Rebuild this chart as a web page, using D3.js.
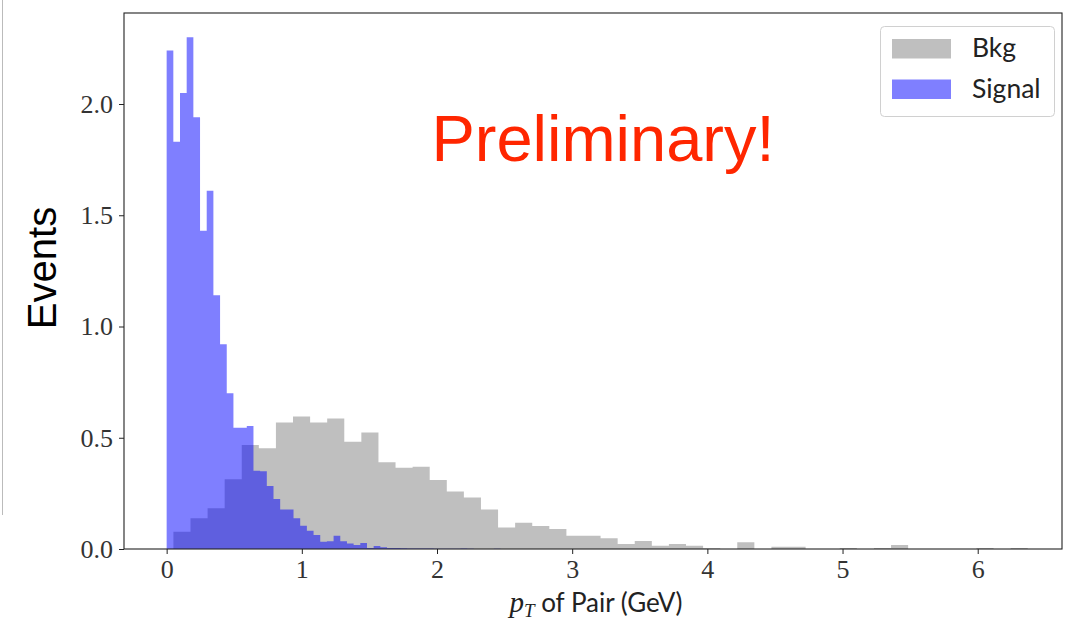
<!DOCTYPE html>
<html>
<head>
<meta charset="utf-8">
<script src="https://cdn.jsdelivr.net/npm/d3@7/dist/d3.min.js"></script>
<style>
  html, body { margin: 0; padding: 0; background: #fff; }
  svg { display: block; }
</style>
</head>
<body>
<svg id="chart" width="1082" height="622"></svg>
<script>
// ---- Data ----
const signalRange = [0.0, 2.47];      // 50 bins
const signalValues = [
  2.24, 1.83, 2.05, 2.30, 1.94, 1.43, 1.61, 1.14, 0.92, 0.70,
  0.545, 0.545, 0.553, 0.352, 0.35, 0.283, 0.225, 0.178, 0.178, 0.138,
  0.105, 0.082, 0.063, 0.033, 0.035, 0.060, 0.035, 0.025, 0.018, 0.027,
  0.004, 0.013, 0.008, 0.005, 0.005, 0.003, 0.002, 0.002, 0.002, 0.002,
  0.001, 0.001, 0.001, 0.001, 0.002, 0.001, 0.0, 0.0, 0.0, 0.001
];
const bkgRange = [0.05, 6.37];        // 50 bins
const bkgValues = [
  0.078, 0.138, 0.183, 0.313, 0.467, 0.453, 0.568, 0.595, 0.569, 0.587,
  0.482, 0.524, 0.390, 0.365, 0.370, 0.310, 0.258, 0.232, 0.178, 0.097,
  0.118, 0.103, 0.090, 0.060, 0.060, 0.048, 0.022, 0.036, 0.015, 0.022,
  0.015, 0.003, 0.0, 0.030, 0.0, 0.010, 0.010, 0.0, 0.0, 0.005,
  0.0, 0.005, 0.018, 0.0, 0.0, 0.0, 0.0, 0.005, 0.0, 0.005
];
const xTicks = [0, 1, 2, 3, 4, 5, 6];
const yTicks = [0.0, 0.5, 1.0, 1.5, 2.0];
const legendLabels = ["Bkg", "Signal"];
const annotation = "Preliminary!";
const yTitle = "Events";

// ---- Layout ----
const svg = d3.select("#chart");
const frame = { left: 124, right: 1062, top: 13, bottom: 549 };
const x = d3.scaleLinear().domain([-0.3155, 6.6235]).range([frame.left, frame.right]);
const y = d3.scaleLinear().domain([0, 2.409]).range([frame.bottom, frame.top]);

// screenshot artifact line at far left
svg.append("line").attr("x1", 2.5).attr("x2", 2.5).attr("y1", 0).attr("y2", 515)
  .attr("stroke", "#bbb").attr("stroke-width", 1);

function histPoints(values, range) {
  const w = (range[1] - range[0]) / values.length;
  const pts = values.map((v, i) => [range[0] + i * w, v]);
  pts.push([range[1], values[values.length - 1]]);
  return pts;
}
const area = d3.area()
  .x(d => x(d[0]))
  .y0(y(0))
  .y1(d => y(d[1]))
  .curve(d3.curveStepAfter);

const plot = svg.append("g");
plot.append("path").datum(histPoints(bkgValues, bkgRange))
  .attr("d", area).attr("fill", "#808080").attr("fill-opacity", 0.5);
plot.append("path").datum(histPoints(signalValues, signalRange))
  .attr("d", area).attr("fill", "#0000ff").attr("fill-opacity", 0.5);

// ---- Frame ----
svg.append("rect")
  .attr("x", frame.left).attr("y", frame.top)
  .attr("width", frame.right - frame.left).attr("height", frame.bottom - frame.top)
  .attr("fill", "none").attr("stroke", "#222").attr("stroke-width", 1.1);

// ---- Axes ----
const tickFont = "'Liberation Serif', 'DejaVu Serif', serif";
const xAxis = d3.axisBottom(x).tickValues(xTicks).tickSize(5).tickPadding(6).tickFormat(d3.format("d"));
const gx = svg.append("g").attr("transform", `translate(0,${frame.bottom})`).call(xAxis);
gx.select(".domain").remove();
gx.selectAll("line").attr("stroke", "#222");
gx.selectAll("text").attr("font-family", tickFont).attr("font-size", 26).attr("fill", "#333");

const yAxis = d3.axisLeft(y).tickValues(yTicks).tickSize(5).tickPadding(6).tickFormat(d3.format(".1f"));
const gy = svg.append("g").attr("transform", `translate(${frame.left},0)`).call(yAxis);
gy.select(".domain").remove();
gy.selectAll("line").attr("stroke", "#222");
gy.selectAll("text").attr("font-family", tickFont).attr("font-size", 26).attr("fill", "#333");

// ---- Axis titles ----
const xl = svg.append("text").attr("x", 596).attr("y", 612).attr("text-anchor", "middle")
  .attr("font-size", 26).attr("fill", "#222");
xl.append("tspan").attr("font-family", tickFont).attr("font-style", "italic").attr("font-size", 29).text("p");
xl.append("tspan").attr("font-family", tickFont).attr("font-style", "italic").attr("font-size", 19).attr("dy", 5).text("T");
xl.append("tspan").attr("font-family", "Lato, 'DejaVu Sans', sans-serif").attr("dy", -5).text(" of Pair (GeV)");

svg.append("text")
  .attr("transform", "translate(56,268) rotate(-90)")
  .attr("text-anchor", "middle")
  .attr("font-family", "'Liberation Sans', Arial, sans-serif")
  .attr("font-size", 40).attr("fill", "#000")
  .text(yTitle);

// ---- Annotation ----
svg.append("text").attr("x", 603).attr("y", 161).attr("text-anchor", "middle")
  .attr("font-family", "'Liberation Sans', Arial, sans-serif")
  .attr("font-size", 65).attr("fill", "#ff2600")
  .text(annotation);

// ---- Legend ----
const legendColors = [["#808080", 0.5], ["#0000ff", 0.5]];
const lg = svg.append("g");
lg.append("rect").attr("x", 880.5).attr("y", 26.5).attr("width", 174).attr("height", 90)
  .attr("rx", 4).attr("fill", "#fff").attr("fill-opacity", 0.8)
  .attr("stroke", "#d0d0d0").attr("stroke-width", 1);
legendLabels.forEach((lab, i) => {
  const yy = 39 + i * 40.5;
  lg.append("rect").attr("x", 892).attr("y", yy).attr("width", 59).attr("height", 19.5)
    .attr("fill", legendColors[i][0]).attr("fill-opacity", legendColors[i][1]);
  lg.append("text").attr("x", 972).attr("y", yy + 18)
    .attr("font-family", "Lato, 'DejaVu Sans', sans-serif").attr("font-size", 26.5).attr("fill", "#222")
    .text(lab);
});
</script>
</body>
</html>
